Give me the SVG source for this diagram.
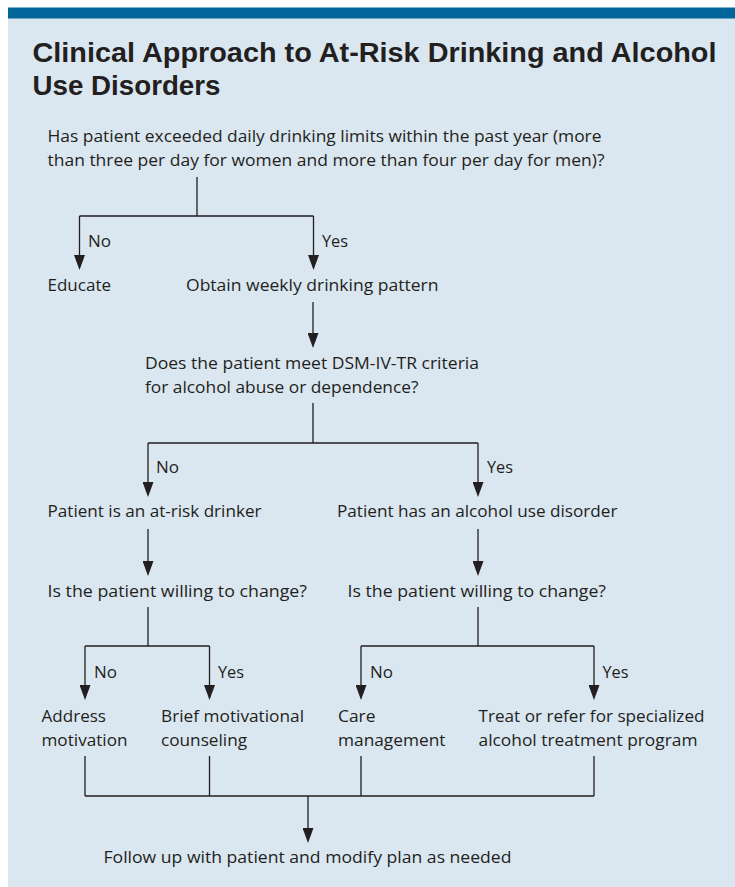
<svg xmlns="http://www.w3.org/2000/svg" width="735" height="887" viewBox="0 0 735 887">
<style>
.t{font-family:"Open Sans","Liberation Sans",sans-serif;font-size:17px;fill:#231f20;}
.h{font-family:"Liberation Sans","Open Sans",sans-serif;font-size:27px;font-weight:700;fill:#231f20;}
.c{stroke:#231f20;stroke-width:1.3;fill:none;}
.a{marker-end:url(#arr);}
</style>
<defs>
<marker id="arr" markerUnits="userSpaceOnUse" markerWidth="15" markerHeight="11" viewBox="0 0 15 11" refX="12" refY="5.5" orient="auto">
<path d="M0,0 L15,5.5 L0,11 z" fill="#231f20"/>
</marker>
</defs>
<rect x="0" y="0" width="735" height="887" fill="#ffffff"/>
<rect id="panel" x="8" y="18" width="727" height="869" fill="#dae6f0"/>
<rect id="bar" x="8" y="7.5" width="727" height="11" fill="#006699"/>
<g id="title">
<text class="h" x="32.5" y="62" textLength="684" lengthAdjust="spacingAndGlyphs">Clinical Approach to At-Risk Drinking and Alcohol</text>
<text class="h" x="32.5" y="95" textLength="188" lengthAdjust="spacingAndGlyphs">Use Disorders</text>
</g>
<g id="connectors">
<path class="c" d="M197,177 V216 M79.5,216 H313.5"/>
<path class="c a" d="M79.5,216 V267"/>
<path class="c a" d="M313.5,216 V267"/>
<path class="c a" d="M313,302 V345"/>
<path class="c" d="M313,403 V443 M148,443 H478"/>
<path class="c a" d="M148,443 V494"/>
<path class="c a" d="M478,443 V494"/>
<path class="c a" d="M148,529 V573"/>
<path class="c a" d="M478,529 V573"/>
<path class="c" d="M148,607 V646 M85,646 H209.5"/>
<path class="c a" d="M85,646 V697"/>
<path class="c a" d="M209.5,646 V697"/>
<path class="c" d="M478,607 V646 M361,646 H594"/>
<path class="c a" d="M361,646 V697"/>
<path class="c a" d="M594,646 V697"/>
<path class="c" d="M85,756 V796 M209.5,756 V796 M361,756 V796 M594,756 V796 M85,796 H594"/>
<path class="c a" d="M308,796 V840"/>
</g>
<g id="labels">
<text class="t" x="88" y="246.5" textLength="23" lengthAdjust="spacingAndGlyphs">No</text>
<text class="t" x="322" y="246.5" textLength="26" lengthAdjust="spacingAndGlyphs">Yes</text>
<text class="t" x="156" y="473" textLength="23" lengthAdjust="spacingAndGlyphs">No</text>
<text class="t" x="487" y="473" textLength="26" lengthAdjust="spacingAndGlyphs">Yes</text>
<text class="t" x="94" y="678" textLength="23" lengthAdjust="spacingAndGlyphs">No</text>
<text class="t" x="218" y="678" textLength="26" lengthAdjust="spacingAndGlyphs">Yes</text>
<text class="t" x="370" y="678" textLength="23" lengthAdjust="spacingAndGlyphs">No</text>
<text class="t" x="602.5" y="678" textLength="26" lengthAdjust="spacingAndGlyphs">Yes</text>
</g>
<g id="q1">
<text class="t" x="47.5" y="141.5" textLength="554" lengthAdjust="spacingAndGlyphs">Has patient exceeded daily drinking limits within the past year (more</text>
<text class="t" x="47.5" y="165.5" textLength="557" lengthAdjust="spacingAndGlyphs">than three per day for women and more than four per day for men)?</text>
</g>
<g id="educate"><text class="t" x="47.5" y="290.5" textLength="63.5" lengthAdjust="spacingAndGlyphs">Educate</text></g>
<g id="obtain"><text class="t" x="186" y="290.5" textLength="252.5" lengthAdjust="spacingAndGlyphs">Obtain weekly drinking pattern</text></g>
<g id="q2">
<text class="t" x="145" y="369" textLength="334" lengthAdjust="spacingAndGlyphs">Does the patient meet DSM-IV-TR criteria</text>
<text class="t" x="145" y="392.5" textLength="273.5" lengthAdjust="spacingAndGlyphs">for alcohol abuse or dependence?</text>
</g>
<g id="atrisk"><text class="t" x="47.5" y="517" textLength="214" lengthAdjust="spacingAndGlyphs">Patient is an at-risk drinker</text></g>
<g id="disorder"><text class="t" x="337" y="517" textLength="280.5" lengthAdjust="spacingAndGlyphs">Patient has an alcohol use disorder</text></g>
<g id="willing1"><text class="t" x="47.5" y="596.5" textLength="259.5" lengthAdjust="spacingAndGlyphs">Is the patient willing to change?</text></g>
<g id="willing2"><text class="t" x="347.5" y="596.5" textLength="258.5" lengthAdjust="spacingAndGlyphs">Is the patient willing to change?</text></g>
<g id="address">
<text class="t" x="41.5" y="721.5" textLength="64.5" lengthAdjust="spacingAndGlyphs">Address</text>
<text class="t" x="41.5" y="746" textLength="86" lengthAdjust="spacingAndGlyphs">motivation</text>
</g>
<g id="brief">
<text class="t" x="161" y="721.5" textLength="143" lengthAdjust="spacingAndGlyphs">Brief motivational</text>
<text class="t" x="161" y="746" textLength="86" lengthAdjust="spacingAndGlyphs">counseling</text>
</g>
<g id="care">
<text class="t" x="338" y="721.5" textLength="37.5" lengthAdjust="spacingAndGlyphs">Care</text>
<text class="t" x="338" y="746" textLength="107.5" lengthAdjust="spacingAndGlyphs">management</text>
</g>
<g id="treat">
<text class="t" x="478.5" y="721.5" textLength="226" lengthAdjust="spacingAndGlyphs">Treat or refer for specialized</text>
<text class="t" x="478.5" y="746" textLength="219" lengthAdjust="spacingAndGlyphs">alcohol treatment program</text>
</g>
<g id="followup"><text class="t" x="103.5" y="863" textLength="408" lengthAdjust="spacingAndGlyphs">Follow up with patient and modify plan as needed</text></g>
</svg>
